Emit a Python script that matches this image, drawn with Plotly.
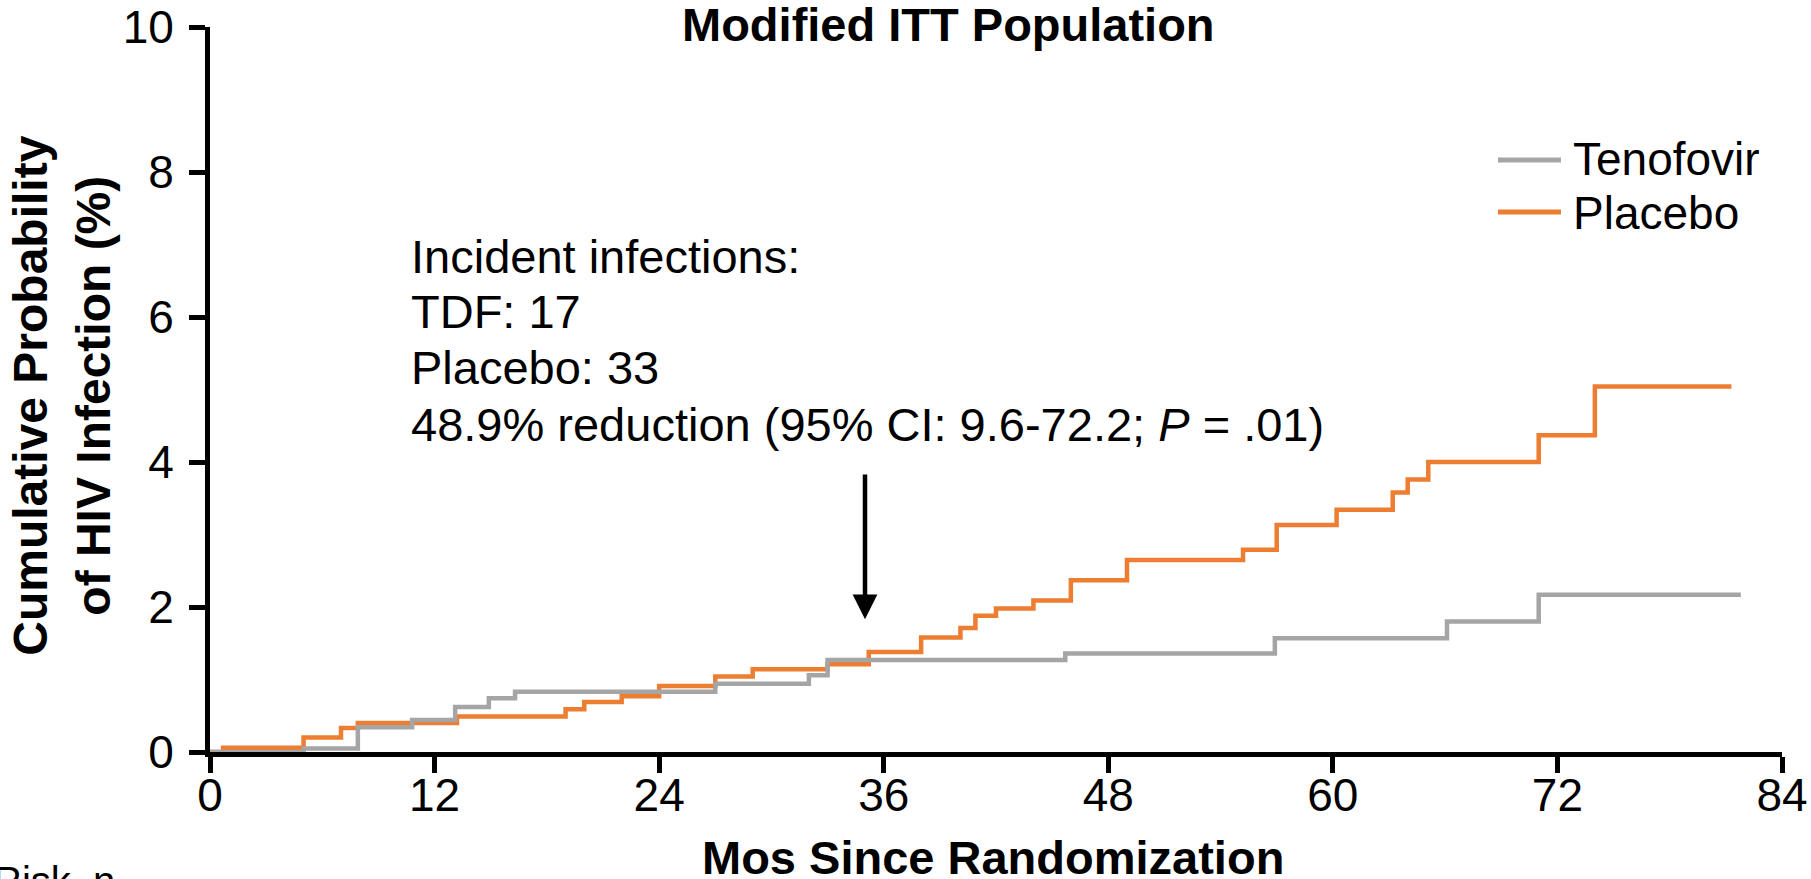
import plotly.graph_objects as go

# Kaplan-Meier style cumulative incidence (step functions), months vs %
months_tenofovir = [0, 5.0, 7.9, 10.8, 13.1, 14.9, 16.3, 27.0, 32.0, 33.0,
                    45.7, 56.9, 66.1, 71.0, 81.8]
risk_tenofovir = [0, 0.05, 0.34, 0.44, 0.62, 0.74, 0.83, 0.94, 1.06, 1.27,
                  1.36, 1.57, 1.80, 2.17, 2.17]

months_placebo = [0, 0.7, 5.0, 7.0, 7.9, 13.2, 19.0, 20.0, 22.0, 24.0, 27.0,
                  29.0, 33.0, 35.2, 38.0, 40.1, 40.9, 42.0, 44.0, 46.0, 49.0,
                  55.2, 57.0, 60.2, 63.2, 64.0, 65.1, 71.0, 74.0, 81.3]
risk_placebo = [0, 0.06, 0.20, 0.33, 0.40, 0.49, 0.59, 0.69, 0.77, 0.91, 1.04,
                1.14, 1.21, 1.38, 1.58, 1.71, 1.88, 1.98, 2.09, 2.37, 2.65,
                2.79, 3.13, 3.34, 3.58, 3.76, 4.00, 4.37, 5.04, 5.04]

x_ticks = [0, 12, 24, 36, 48, 60, 72, 84]
y_ticks = [0, 2, 4, 6, 8, 10]

series_names = ["Tenofovir", "Placebo"]
series_colors = ["#A5A5A5", "#ED7D31"]

info_lines = [
    "Incident infections:",
    "TDF: 17",
    "Placebo: 33",
    "48.9% reduction (95% CI: 9.6-72.2; <i>P</i> = .01)",
]
info_line_y = [6.83, 6.08, 5.31, 4.52]

arrow_month = 35.0
arrow_from, arrow_to = 3.85, 1.83

FONT = "Arial, Liberation Sans, sans-serif"

fig = go.Figure()
fig.add_trace(go.Scatter(
    x=months_placebo, y=risk_placebo, mode="lines", name=series_names[1],
    line=dict(shape="hv", color=series_colors[1], width=4.5), showlegend=False))
fig.add_trace(go.Scatter(
    x=months_tenofovir, y=risk_tenofovir, mode="lines", name=series_names[0],
    line=dict(shape="hv", color=series_colors[0], width=4.5), showlegend=False))

axis_common = dict(
    showline=True, linewidth=5, linecolor="black", ticks="outside",
    ticklen=16, tickwidth=5, tickcolor="black", showgrid=False,
    zeroline=False, layer="below traces", automargin=False,
    tickfont=dict(family=FONT, size=46, color="black"),
)
fig.update_xaxes(range=[0, 84], tickvals=x_ticks, ticklabelstandoff=-17,
                 **axis_common)
fig.update_yaxes(range=[0, 10], tickvals=y_ticks, ticklabelstandoff=6,
                 **axis_common)

annotations = []
# title
annotations.append(dict(
    text="<b>Modified ITT Population</b>", xref="paper", yref="paper",
    x=0.4695, y=1.0028, xanchor="center", yanchor="middle", showarrow=False,
    font=dict(family=FONT, size=47, color="black")))
# y-axis title
annotations.append(dict(
    text="<b>Cumulative Probability<br>of HIV Infection (%)</b>",
    xref="paper", yref="paper", x=-0.0945, y=0.492, textangle=-90,
    xanchor="center", yanchor="middle", showarrow=False,
    font=dict(family=FONT, size=48, color="black")))
# x-axis title
annotations.append(dict(
    text="<b>Mos Since Randomization</b>", xref="paper", yref="paper",
    x=0.498, y=-0.145, xanchor="center", yanchor="middle", showarrow=False,
    font=dict(family=FONT, size=47, color="black")))
# number-at-risk header (cut off at the bottom edge)
annotations.append(dict(
    text="Risk, n", xref="paper", yref="paper", x=-0.139, y=-0.178,
    xanchor="left", yanchor="middle", showarrow=False,
    font=dict(family=FONT, size=40, color="black")))
# info text block
for line, yv in zip(info_lines, info_line_y):
    annotations.append(dict(
        text=line, xref="x", yref="y", x=10.64, y=yv, xanchor="left",
        yanchor="middle", showarrow=False,
        font=dict(family=FONT, size=47, color="black")))
# arrow
annotations.append(dict(
    text="", xref="x", yref="y", x=arrow_month, y=arrow_to,
    axref="x", ayref="y", ax=arrow_month, ay=arrow_from,
    showarrow=True, arrowhead=2, arrowsize=1.1, arrowwidth=4.5,
    arrowcolor="black", standoff=0))

# legend drawn as line samples + labels
legend_y_line = [0.8166, 0.7448]
legend_y_text = [0.8186, 0.7428]
shapes = []
for name, color, yl, yt in zip(series_names, series_colors, legend_y_line, legend_y_text):
    shapes.append(dict(type="line", xref="paper", yref="paper",
                       x0=0.8193, x1=0.8594, y0=yl, y1=yl,
                       line=dict(color=color, width=5)))
    annotations.append(dict(
        text=name, xref="paper", yref="paper", x=0.8658, y=yt,
        xanchor="left", yanchor="middle", showarrow=False,
        font=dict(family=FONT, size=46, color="black")))

fig.update_layout(
    width=1811, height=879,
    margin=dict(l=210, r=29, t=27, b=127, pad=0, autoexpand=False),
    paper_bgcolor="white", plot_bgcolor="white",
    annotations=annotations, shapes=shapes, showlegend=False,
)

fig.write_html("out.html", config={"displayModeBar": False})
